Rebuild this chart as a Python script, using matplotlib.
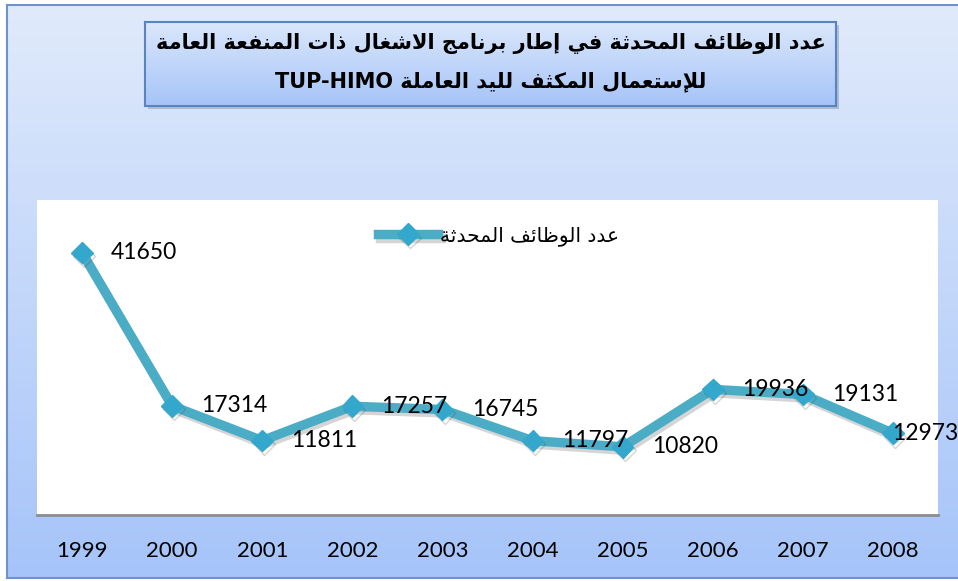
import numpy as np
import matplotlib
matplotlib.use('Agg')
import matplotlib.pyplot as plt
from matplotlib import patheffects as pe
from matplotlib.patches import Rectangle
from matplotlib.colors import LinearSegmentedColormap

# ---------------- data ----------------
years = ['1999', '2000', '2001', '2002', '2003', '2004', '2005', '2006', '2007', '2008']
jobs = [41650, 17314, 11811, 17257, 16745, 11797, 10820, 19936, 19131, 12973]
series_name = "عدد الوظائف المحدثة"
title_line1 = "عدد الوظائف المحدثة في إطار برنامج الاشغال ذات المنفعة العامة"
title_line2 = "للإستعمال المكثف لليد العاملة TUP-HIMO"

# ---------------- minimal Arabic shaping (presentation forms) ----------------
_D = {  # dual-joining: iso, fin, ini, med
    'ئ': 0xFE89, 'ب': 0xFE8F, 'ت': 0xFE95, 'ث': 0xFE99, 'ج': 0xFE9D, 'ح': 0xFEA1,
    'خ': 0xFEA5, 'س': 0xFEB1, 'ش': 0xFEB5, 'ص': 0xFEB9, 'ض': 0xFEBD, 'ط': 0xFEC1,
    'ظ': 0xFEC5, 'ع': 0xFEC9, 'غ': 0xFECD, 'ف': 0xFED1, 'ق': 0xFED5, 'ك': 0xFED9,
    'ل': 0xFEDD, 'م': 0xFEE1, 'ن': 0xFEE5, 'ه': 0xFEE9, 'ي': 0xFEF1,
}
_R = {  # right-joining: iso, fin
    'آ': 0xFE81, 'أ': 0xFE83, 'ؤ': 0xFE85, 'إ': 0xFE87, 'ا': 0xFE8D, 'ة': 0xFE93,
    'د': 0xFEA9, 'ذ': 0xFEAB, 'ر': 0xFEAD, 'ز': 0xFEAF, 'و': 0xFEED, 'ى': 0xFEEF,
}
_LAMALEF = {'آ': 0xFEF5, 'أ': 0xFEF7, 'إ': 0xFEF9, 'ا': 0xFEFB}


def _is_arabic(w):
    return any('\u0600' <= c <= '\u06FF' for c in w)


def _shape(word):
    units = []
    i = 0
    while i < len(word):
        c = word[i]
        if c == 'ل' and i + 1 < len(word) and word[i + 1] in _LAMALEF:
            units.append(('R', _LAMALEF[word[i + 1]]))
            i += 2
            continue
        if c in _D:
            units.append(('D', _D[c]))
        elif c in _R:
            units.append(('R', _R[c]))
        else:
            units.append(('U', c))
        i += 1
    out = []
    for k, (t, base) in enumerate(units):
        if t == 'U':
            out.append(base)
            continue
        prev_c = k > 0 and units[k - 1][0] == 'D'
        next_c = t == 'D' and k + 1 < len(units) and units[k + 1][0] in ('D', 'R')
        if prev_c and next_c:
            off = 3
        elif prev_c:
            off = 1
        elif next_c:
            off = 2
        else:
            off = 0
        out.append(chr(base + off))
    return ''.join(out)


def rtl(text):
    words = text.split(' ')
    vis = [(_shape(w)[::-1] if _is_arabic(w) else w) for w in words]
    return ' '.join(reversed(vis))


# ---------------- figure ----------------
W, H = 958, 581
fig = plt.figure(figsize=(W / 100, H / 100), dpi=100)
fig.patch.set_facecolor('white')


def fx(px):
    return px / W


def fy(py):
    return 1 - py / H


# outer chart area with vertical gradient
bg_cmap = LinearSegmentedColormap.from_list('bg', ['#e0eafb', '#a6c4f9'])
bg = fig.add_axes([fx(7), fy(578), fx(W + 10 - 7), (578 - 5) / H], zorder=0)
bg.imshow(np.linspace(0, 1, 256).reshape(-1, 1), aspect='auto', cmap=bg_cmap,
          extent=[0, 1, 0, 1], origin='upper')
bg.set_xlim(0, 1)
bg.set_ylim(0, 1)
bg.set_xticks([])
bg.set_yticks([])
for s in bg.spines.values():
    s.set_color('#6f93c9')
    s.set_linewidth(1.5)

# title box shadow + gradient box
fig.patches.append(Rectangle((fx(148), fy(109)), fx(836 - 145), (106 - 22) / H,
                             transform=fig.transFigure, facecolor='#7d8ca8',
                             alpha=0.45, edgecolor='none', zorder=1))
tb_cmap = LinearSegmentedColormap.from_list('tb', ['#dbe7fb', '#a6c4f8'])
tb = fig.add_axes([fx(145), fy(106), fx(836 - 145), (106 - 22) / H], zorder=2)
tb.imshow(np.linspace(0, 1, 256).reshape(-1, 1), aspect='auto', cmap=tb_cmap,
          extent=[0, 1, 0, 1], origin='upper')
tb.set_xticks([])
tb.set_yticks([])
for s in tb.spines.values():
    s.set_color('#5a84c0')
    s.set_linewidth(1.5)
tb.text(0.5, 0.74, rtl(title_line1), ha='center', va='center', fontsize=15,
        fontweight='bold', family='DejaVu Sans', color='black', transform=tb.transAxes)
tb.text(0.5, 0.29, rtl(title_line2), ha='center', va='center', fontsize=15,
        fontweight='bold', family='DejaVu Sans', color='black', transform=tb.transAxes)

# plot area
ax = fig.add_axes([fx(37), fy(515), fx(938 - 37), (515 - 200) / H], zorder=3)
ax.set_facecolor('white')
x = np.arange(len(years))
line, = ax.plot(x, jobs, color='#4bacc6', lw=6.8, marker='D', markersize=11,
                markerfacecolor='#34a7cc', markeredgecolor='#34a7cc',
                solid_joinstyle='miter', label=rtl(series_name), zorder=4)
line.set_path_effects([pe.SimpleLineShadow(offset=(1.5, -2.5), shadow_color='#404040', alpha=0.22),
                       pe.Normal()])
ax.set_xlim(-0.5, len(years) - 0.5)
ax.set_ylim(0, 50000)
ax.set_yticks([])
ax.set_xticks(x)
ax.set_xticklabels(years, fontsize=16, family='Lato', color='black')
ax.tick_params(axis='x', length=0, pad=19)
for side in ['top', 'left', 'right']:
    ax.spines[side].set_visible(False)
ax.spines['bottom'].set_color('#8c8c8c')
ax.spines['bottom'].set_linewidth(2)

offsets = [21] * (len(jobs) - 1) + [-0.5]
for xi, v, off in zip(x, jobs, offsets):
    ax.annotate(str(v), (xi, v), xytext=(off, 0), textcoords='offset points',
                ha='left', va='center', fontsize=16.5, family='Lato',
                color='black', zorder=6, annotation_clip=False)

leg = ax.legend(loc='center left', bbox_to_anchor=(fx(378), fy(236)),
                bbox_transform=fig.transFigure, frameon=False, borderpad=0,
                borderaxespad=0, handlelength=3.0, handletextpad=0.1,
                prop={'family': 'DejaVu Sans', 'size': 14.5})

fig.savefig('out.png', dpi=100, facecolor='white')
